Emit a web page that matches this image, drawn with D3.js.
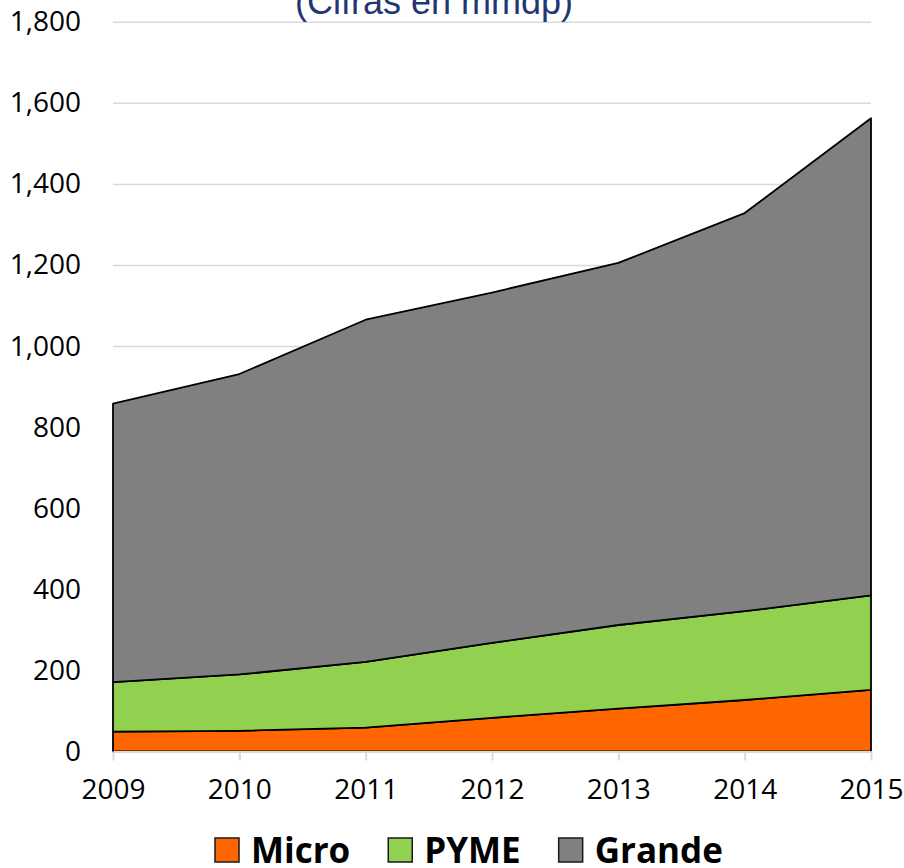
<!DOCTYPE html>
<html>
<head>
<meta charset="utf-8">
<script src="https://cdn.jsdelivr.net/npm/d3@7"></script>
<style>
  html, body { margin: 0; padding: 0; background: #fff; }
  svg { display: block; }
  .tick-label { font-family: "Open Sans", sans-serif; font-size: 28px; fill: #000; }
</style>
</head>
<body>
<div id="chart"></div>
<script>
// Chart data
const years = [2009, 2010, 2011, 2012, 2013, 2014, 2015];
const micro = [49, 51, 59, 83, 106, 127, 152];
const pyme = [122, 139, 162, 185, 206, 219, 233];
const grande = [687, 741, 844, 864, 893, 982, 1177];
const seriesNames = ["Micro", "PYME", "Grande"];
const seriesColours = ["#FF6600", "#92D050", "#808080"];
const yTicks = [0, 200, 400, 600, 800, 1000, 1200, 1400, 1600, 1800];
const title = "(Cifras en mmdp)";

const width = 904;
const height = 868;
const margin = { top: 21.7, right: 33, bottom: 116.5, left: 113 };

// Rows for d3.stack
const rows = years.map((year, i) => ({
  year,
  Micro: micro[i],
  PYME: pyme[i],
  Grande: grande[i],
}));
const stacked = d3.stack().keys(seriesNames)(rows);

// Scales
const xScale = d3
  .scaleLinear()
  .domain(d3.extent(years))
  .range([margin.left, width - margin.right]);
const yScale = d3
  .scaleLinear()
  .domain([0, 1800])
  .range([height - margin.bottom, margin.top]);

const svg = d3
  .select("#chart")
  .append("svg")
  .attr("width", width)
  .attr("height", height);

// Gridlines
svg
  .append("g")
  .attr("transform", `translate(${margin.left}, 0)`)
  .call(
    d3
      .axisLeft(yScale)
      .tickValues(yTicks.slice(1))
      .tickSize(margin.left + margin.right - width)
      .tickFormat("")
  )
  .call((g) => g.select(".domain").remove())
  .call((g) =>
    g.selectAll("line").attr("stroke", "#d9d9d9").attr("stroke-width", 1.5)
  );

// Title (cut off at the top like the original)
svg
  .append("text")
  .attr("x", 434)
  .attr("y", 14)
  .attr("text-anchor", "middle")
  .attr("font-family", "Liberation Sans, Arial, sans-serif")
  .attr("font-size", 36)
  .attr("fill", "#1F3772")
  .text(title);

// Areas
const area = d3
  .area()
  .x((d) => xScale(d.data.year))
  .y0((d) => yScale(d[0]))
  .y1((d) => yScale(d[1]));

svg
  .selectAll(".layer")
  .data(stacked)
  .enter()
  .append("path")
  .attr("class", "layer")
  .attr("fill", (d, i) => seriesColours[i])
  .attr("stroke", "#000")
  .attr("stroke-width", 1.8)
  .attr("stroke-linejoin", "round")
  .attr("d", area);

// X axis
svg
  .append("g")
  .attr("transform", `translate(0, ${height - margin.bottom})`)
  .call(
    d3
      .axisBottom(xScale)
      .tickValues(years)
      .tickFormat(d3.format("d"))
      .tickSize(9)
      .tickSizeOuter(0)
      .tickPadding(19)
  )
  .call((g) =>
    g.select(".domain").attr("stroke", "#d9d9d9").attr("stroke-width", 2)
  )
  .call((g) =>
    g.selectAll("line").attr("stroke", "#d9d9d9").attr("stroke-width", 2)
  )
  .call((g) =>
    g.selectAll("text").attr("class", "tick-label").attr("dy", "0.71em")
  );

// Y axis labels
svg
  .append("g")
  .attr("transform", `translate(81, 0)`)
  .call(
    d3
      .axisLeft(yScale)
      .tickValues(yTicks)
      .tickFormat(d3.format(","))
      .tickSize(0)
      .tickPadding(0)
  )
  .call((g) => g.select(".domain").remove())
  .call((g) => g.selectAll("text").attr("class", "tick-label"));

// Legend
const legend = svg.append("g").attr("transform", "translate(0, 863)");
let legendX = 215;
seriesNames.forEach((name, i) => {
  legend
    .append("rect")
    .attr("x", legendX)
    .attr("y", -25)
    .attr("width", 24)
    .attr("height", 24)
    .attr("fill", seriesColours[i])
    .attr("stroke", "#1a1a1a")
    .attr("stroke-width", 1.5);
  const label = legend
    .append("text")
    .attr("x", legendX + 36)
    .attr("y", 0)
    .attr("font-family", "Open Sans, sans-serif")
    .attr("font-weight", "bold")
    .attr("font-size", 35)
    .attr("fill", "#000")
    .text(name);
  legendX += 36 + label.node().getComputedTextLength() + 38;
});
</script>
</body>
</html>
